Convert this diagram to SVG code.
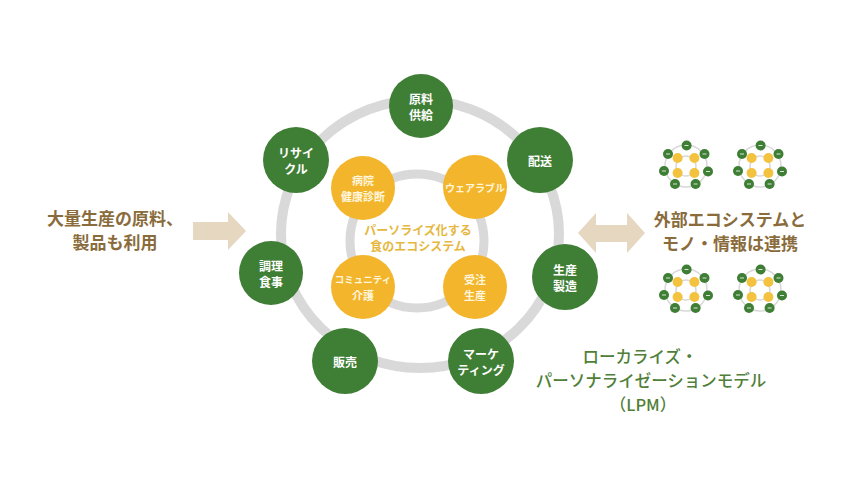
<svg xmlns="http://www.w3.org/2000/svg" xmlns:xlink="http://www.w3.org/1999/xlink" width="860" height="483" viewBox="0 0 860 483">
<style>
.ring{fill:none;stroke:#d9d9d9}
.g{fill:#3f7e35}
.y{fill:#f3b52c}
.nt{font-family:"Noto Sans CJK JP","Noto Sans",sans-serif;font-weight:700;font-size:12px;fill:#ffffff;text-anchor:middle;dominant-baseline:central}
.yt{font-family:"Noto Sans CJK JP","Noto Sans",sans-serif;font-weight:700;font-size:11px;fill:#fff6dc;text-anchor:middle;dominant-baseline:central}
.ct{font-family:"Noto Sans CJK JP","Noto Sans",sans-serif;font-weight:700;font-size:12px;fill:#e6b73e;text-anchor:middle;dominant-baseline:central}
.bt{font-family:"Noto Sans CJK JP","Noto Sans",sans-serif;font-weight:700;font-size:17px;fill:#8a6c3c;text-anchor:middle;dominant-baseline:central}
.lt{font-family:"Noto Sans CJK JP","Noto Sans",sans-serif;font-weight:500;font-size:16.5px;fill:#4f7f38;text-anchor:middle;dominant-baseline:central}
.arr{fill:#e6d7c0}
.mg{fill:#3f7e35}
.my{fill:#f3c23e}
.mw{stroke:#ffffff;stroke-width:1;opacity:0.8}
</style>
<defs>
<g id="mini">
<circle class="ring" cx="0" cy="0" r="21" stroke-width="1.5"/>
<circle class="ring" cx="0" cy="0" r="10" stroke-width="1.5"/>
<circle class="my" cx="-8.4" cy="-8" r="5"/>
<circle class="my" cx="8.4" cy="-8" r="5"/>
<circle class="my" cx="-8.4" cy="7" r="5"/>
<circle class="my" cx="8.4" cy="7" r="5"/>
<circle class="mg" cx="0.6" cy="-20.5" r="5"/>
<circle class="mg" cx="-18" cy="-12" r="5"/>
<circle class="mg" cx="18.5" cy="-12" r="5"/>
<circle class="mg" cx="-22" cy="5" r="5"/>
<circle class="mg" cx="22" cy="5.5" r="5"/>
<circle class="mg" cx="-11" cy="18" r="5"/>
<circle class="mg" cx="9.6" cy="18" r="5"/>
<path class="mw" d="M-1.5,-20.5h4M-20,-12h4M16.5,-12h4M-24,5h4M20,5.5h4M-13,18h4M7.6,18h4"/>
</g>
</defs>
<rect x="0" y="0" width="860" height="483" fill="#ffffff"/>

<g id="rings">
<ellipse class="ring" cx="420" cy="234" rx="139" ry="134" stroke-width="10"/>
<circle class="ring" cx="417" cy="241" r="67" stroke-width="9"/>
</g>

<g id="connectors">
<path class="arr" d="M193,222 H228 V212 L246,231 L228,250 V240 H193 Z"/>
<path class="arr" d="M578,233 L596,213 V225 H627 V213 L645,233 L627,253 V242 H596 V253 Z"/>
</g>

<g id="center-label">
<text class="ct" x="418" y="229">パーソライズ化する</text>
<text class="ct" x="418" y="245">食のエコシステム</text>
</g>

<g id="n-hospital"><circle class="y" cx="363" cy="188" r="32"/><text class="yt" x="363" y="180">病院</text><text class="yt" x="363" y="196">健康診断</text></g>
<g id="n-wearable"><circle class="y" cx="475" cy="187" r="32"/><text class="yt" x="475" y="187" style="font-size:10px">ウェアラブル</text></g>
<g id="n-community"><circle class="y" cx="363" cy="287" r="32"/><text class="yt" x="363" y="279" style="font-size:9.5px">コミュニティ</text><text class="yt" x="363" y="295">介護</text></g>
<g id="n-order"><circle class="y" cx="475" cy="287" r="32"/><text class="yt" x="475" y="279">受注</text><text class="yt" x="475" y="295">生産</text></g>

<g id="n-supply"><circle class="g" cx="421" cy="106" r="32"/><text class="nt" x="421" y="98">原料</text><text class="nt" x="421" y="114">供給</text></g>
<g id="n-delivery"><circle class="g" cx="540" cy="160" r="33"/><text class="nt" x="540" y="160">配送</text></g>
<g id="n-production"><circle class="g" cx="565" cy="277" r="33"/><text class="nt" x="565" y="269">生産</text><text class="nt" x="565" y="285">製造</text></g>
<g id="n-marketing"><circle class="g" cx="481" cy="361" r="33"/><text class="nt" x="481" y="353">マーケ</text><text class="nt" x="481" y="369">ティング</text></g>
<g id="n-sales"><circle class="g" cx="345" cy="361" r="33"/><text class="nt" x="345" y="361">販売</text></g>
<g id="n-cooking"><circle class="g" cx="271" cy="273" r="32"/><text class="nt" x="271" y="265">調理</text><text class="nt" x="271" y="281">食事</text></g>
<g id="n-recycle"><circle class="g" cx="296" cy="160" r="33"/><text class="nt" x="296" y="152">リサイ</text><text class="nt" x="296" y="168">クル</text></g>

<g id="left-label">
<text class="bt" x="115" y="217">大量生産の原料、</text>
<text class="bt" x="115" y="241">製品も利用</text>
</g>

<g id="right-label">
<text class="bt" x="730" y="218">外部エコシステムと</text>
<text class="bt" x="730" y="242">モノ・情報は連携</text>
</g>

<g id="minis">
<use href="#mini" x="686" y="166"/>
<use href="#mini" x="760" y="166"/>
<use href="#mini" x="686" y="290"/>
<use href="#mini" x="760" y="290"/>
</g>

<g id="lpm-label">
<text class="lt" x="640" y="356">ローカライズ・</text>
<text class="lt" x="651" y="380">パーソナライゼーションモデル</text>
<text class="lt" x="643" y="404">（LPM）</text>
</g>
</svg>
